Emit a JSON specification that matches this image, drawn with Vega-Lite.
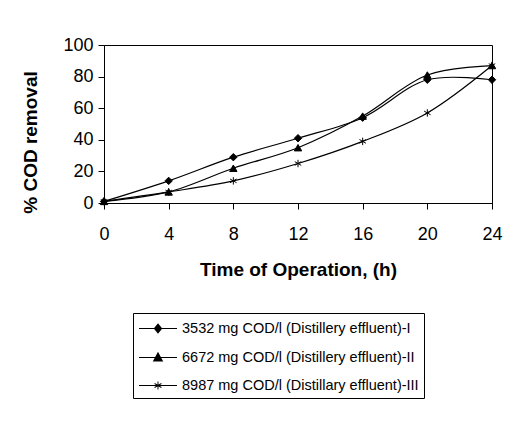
{
  "$schema": "https://vega.github.io/schema/vega-lite/v6.json",
  "autosize": "none",
  "width": 388,
  "height": 158,
  "padding": {"left": 104, "top": 45, "right": 33, "bottom": 220},
  "background": "white",
  "config": {
    "view": {"stroke": "black", "strokeWidth": 1},
    "font": "Liberation Sans"
  },
  "data": {
    "values": [
      {"t": 0, "v": 1, "s": "3532 mg COD/l (Distillery effluent)-I"},
      {"t": 4, "v": 14, "s": "3532 mg COD/l (Distillery effluent)-I"},
      {"t": 8, "v": 29, "s": "3532 mg COD/l (Distillery effluent)-I"},
      {"t": 12, "v": 41, "s": "3532 mg COD/l (Distillery effluent)-I"},
      {"t": 16, "v": 54, "s": "3532 mg COD/l (Distillery effluent)-I"},
      {"t": 20, "v": 78, "s": "3532 mg COD/l (Distillery effluent)-I"},
      {"t": 24, "v": 78, "s": "3532 mg COD/l (Distillery effluent)-I"},
      {"t": 0, "v": 1, "s": "6672 mg COD/l (Distillery effluent)-II"},
      {"t": 4, "v": 7, "s": "6672 mg COD/l (Distillery effluent)-II"},
      {"t": 8, "v": 22, "s": "6672 mg COD/l (Distillery effluent)-II"},
      {"t": 12, "v": 35, "s": "6672 mg COD/l (Distillery effluent)-II"},
      {"t": 16, "v": 55, "s": "6672 mg COD/l (Distillery effluent)-II"},
      {"t": 20, "v": 81, "s": "6672 mg COD/l (Distillery effluent)-II"},
      {"t": 24, "v": 87, "s": "6672 mg COD/l (Distillery effluent)-II"},
      {"t": 0, "v": 1, "s": "8987 mg COD/l (Distillary effluent)-III"},
      {"t": 4, "v": 7, "s": "8987 mg COD/l (Distillary effluent)-III"},
      {"t": 8, "v": 14, "s": "8987 mg COD/l (Distillary effluent)-III"},
      {"t": 12, "v": 25, "s": "8987 mg COD/l (Distillary effluent)-III"},
      {"t": 16, "v": 39, "s": "8987 mg COD/l (Distillary effluent)-III"},
      {"t": 20, "v": 57, "s": "8987 mg COD/l (Distillary effluent)-III"},
      {"t": 24, "v": 87, "s": "8987 mg COD/l (Distillary effluent)-III"}
    ]
  },
  "encoding": {
    "x": {
      "field": "t", "type": "quantitative",
      "scale": {"domain": [0, 24], "nice": false},
      "axis": {
        "values": [0, 4, 8, 12, 16, 20, 24],
        "grid": false, "domainColor": "black", "tickColor": "black",
        "tickSize": 6, "labelFont": "Liberation Sans", "labelFontSize": 18,
        "labelColor": "black", "labelPadding": 16, "labelFlush": false,
        "title": "Time of Operation, (h)", "titleFont": "Liberation Sans",
        "titleFontSize": 19, "titleFontWeight": "bold", "titleColor": "black",
        "titlePadding": 17
      }
    },
    "y": {
      "field": "v", "type": "quantitative",
      "scale": {"domain": [0, 100], "nice": false},
      "axis": {
        "values": [0, 20, 40, 60, 80, 100],
        "grid": false, "domainColor": "black", "tickColor": "black",
        "tickSize": 6, "labelFont": "Liberation Sans", "labelFontSize": 18,
        "labelColor": "black", "labelPadding": 5, "labelFlush": false,
        "title": "% COD removal", "titleFont": "Liberation Sans",
        "titleFontSize": 19, "titleFontWeight": "bold", "titleColor": "black",
        "titlePadding": 22, "titleY": 97
      }
    }
  },
  "layer": [
    {
      "mark": {"type": "line", "interpolate": "catmull-rom", "color": "black", "strokeWidth": 1.2},
      "encoding": {"detail": {"field": "s"}}
    },
    {
      "mark": {"type": "point", "filled": true, "color": "black", "stroke": "black", "strokeWidth": 1, "opacity": 1, "size": 55},
      "encoding": {
        "shape": {
          "field": "s", "type": "nominal",
          "scale": {"range": ["diamond", "triangle-up", "M0,-1L0,1M-0.87,-0.5L0.87,0.5M-0.87,0.5L0.87,-0.5"]},
          "legend": null
        }
      }
    },
    {
      "mark": {"type": "point", "filled": true, "color": "black", "opacity": 0, "size": 10},
      "encoding": {
        "shape": {
          "field": "s", "type": "nominal",
          "scale": {"range": [
            "M-1,-0.06L3,-0.06L3,0.06L-1,0.06ZM1,-0.55L1.45,0L1,0.55L0.55,0Z",
            "M-1,-0.06L3,-0.06L3,0.06L-1,0.06ZM1,-0.6L1.55,0.42L0.45,0.42Z",
            "M-1,-0.06L3,-0.06L3,0.06L-1,0.06ZM0.95,-0.42L1.05,-0.42L1.05,0.42L0.95,0.42ZM0.665,-0.253L1.385,0.167L1.335,0.253L0.615,-0.167ZM0.615,0.167L1.335,-0.253L1.385,-0.167L0.665,0.253Z"
          ]},
          "legend": {
            "title": null,
            "orient": "none",
            "legendX": 29,
            "legendY": 268,
            "padding": 5,
            "strokeColor": "black",
            "fillColor": "white",
            "symbolSize": 361,
            "symbolOpacity": 1,
            "symbolFillColor": "black",
            "rowPadding": 10,
            "labelFont": "Liberation Sans",
            "labelFontSize": 14.5,
            "labelColor": "black",
            "labelLimit": 400,
            "labelOffset": 23
          }
        }
      }
    }
  ],
  "resolve": {"scale": {"shape": "independent"}}
}
